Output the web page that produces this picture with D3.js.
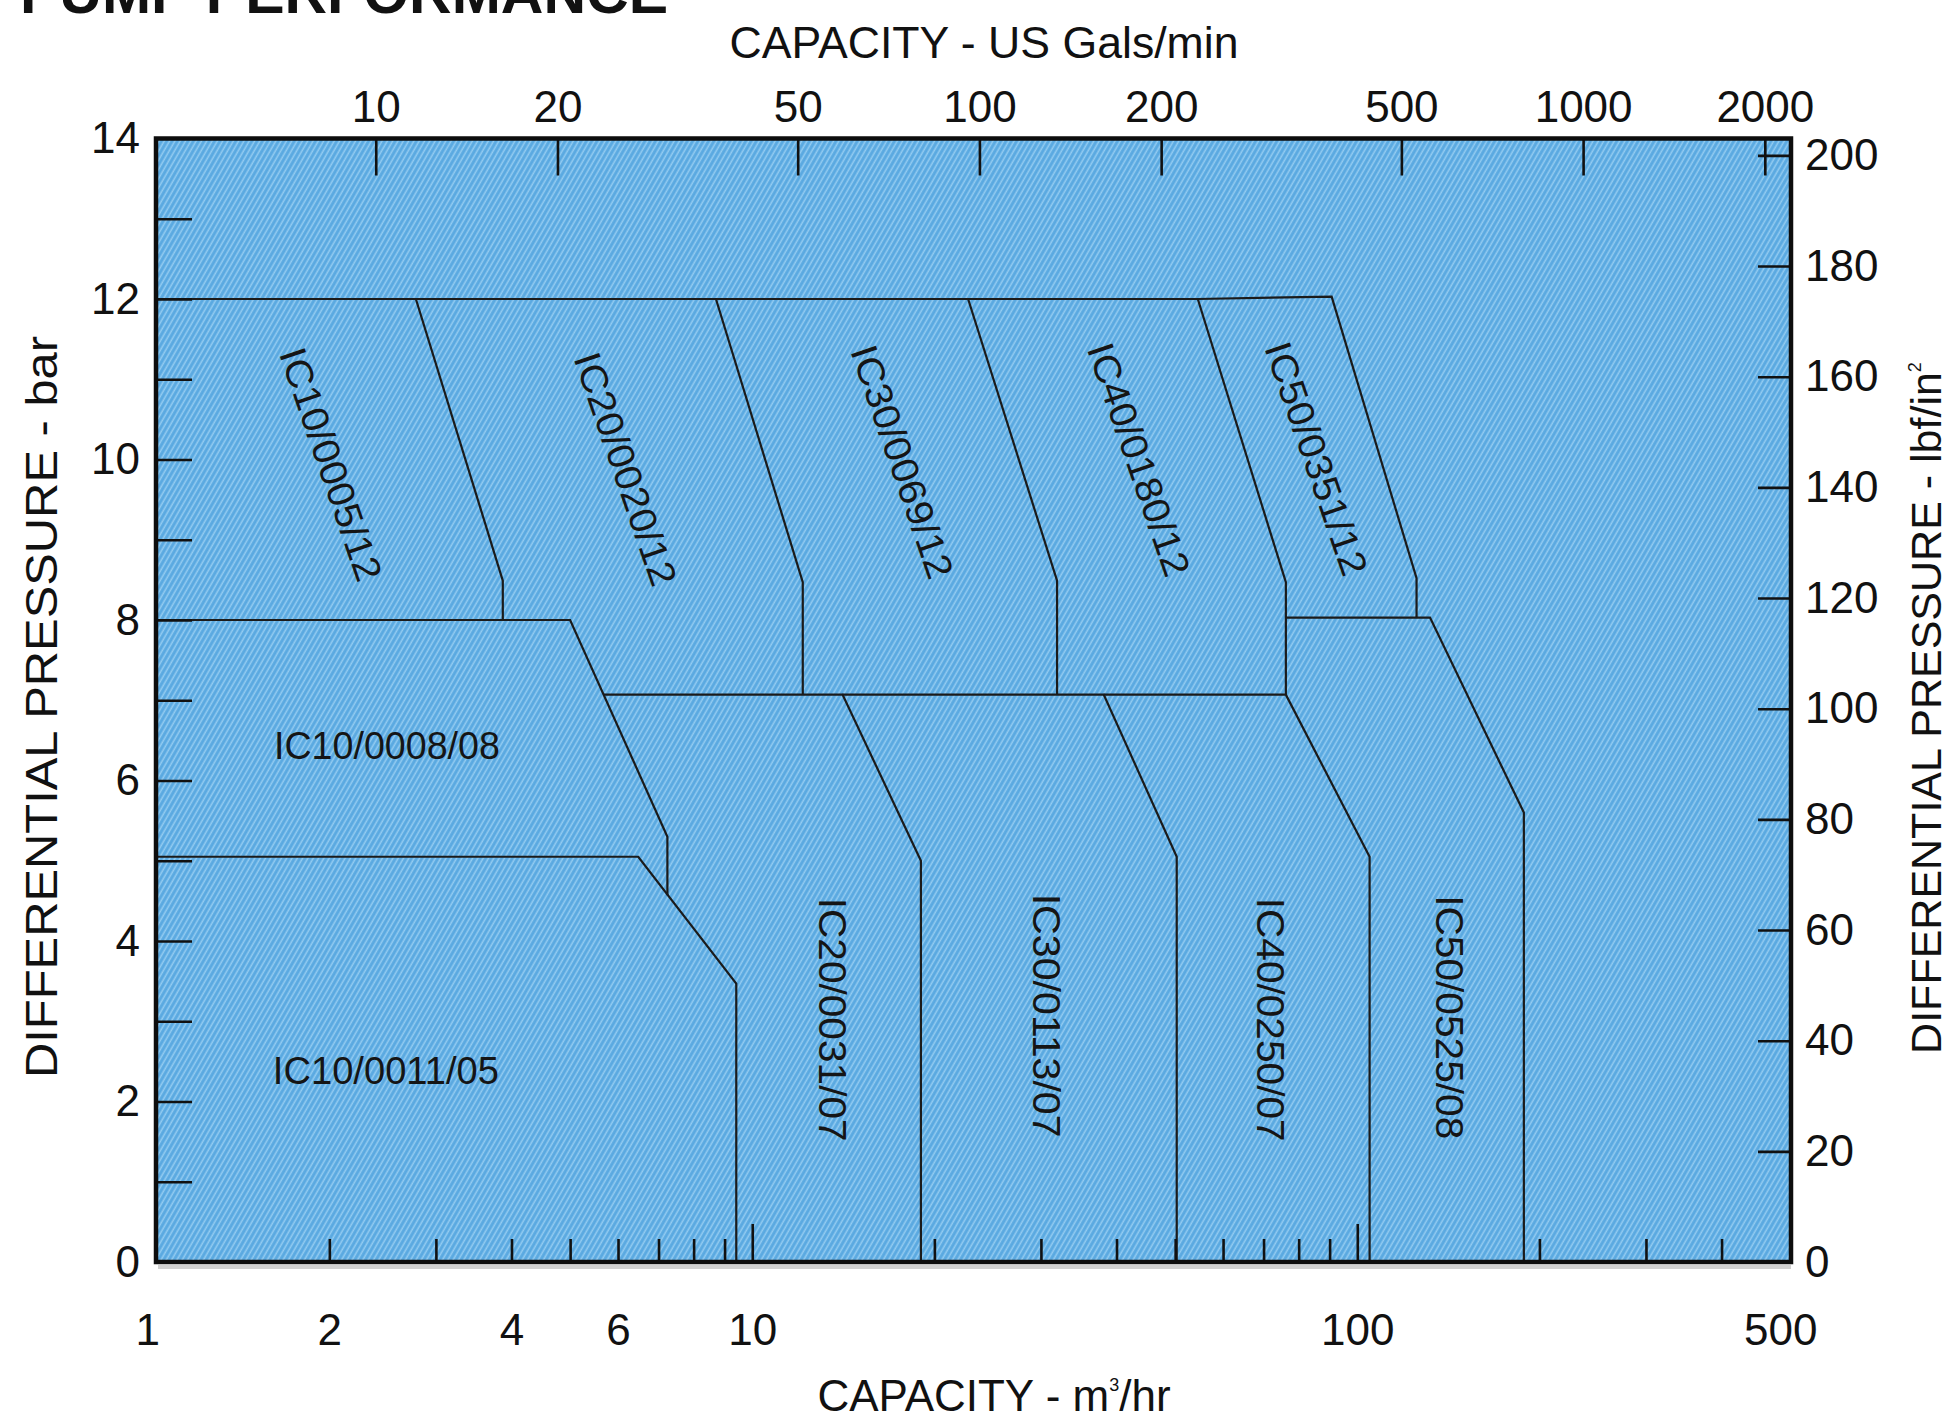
<!DOCTYPE html>
<html>
<head>
<meta charset="utf-8">
<script src="https://cdn.jsdelivr.net/npm/d3@7"></script>
<style>
    html, body { margin: 0; padding: 0; background: #fff; }
    svg { display: block; }
</style>
</head>
<body>
<svg id="chart"></svg>
<script>
(function () {
    'use strict';

    // axis ranges
    const flowDomain = [1.034, 521];     // m3/hr, bottom axis (log)
    const gpmDomain = [4.325, 2210];     // US gal/min, top axis (log)
    const barDomain = [0, 14];
    const PSI_PER_BAR = 14.5038;

    const barLabels = d3.range(0, 15, 2);
    const barMinor = d3.range(1, 14);
    const psiTicks = d3.range(20, 201, 20);
    const psiLabels = d3.range(0, 201, 20);
    const flowLabels = [1, 2, 4, 6, 10, 100, 500];
    const flowMinor = [2, 3, 4, 5, 6, 7, 8, 9, 20, 30, 40, 50, 60, 70, 80, 90, 200, 300, 400];
    const flowMajor = [10, 100];
    const gpmTicks = [10, 20, 50, 100, 200, 500, 1000, 2000];

    // pump models and the upper / right edge of each one's range, [m3/hr, bar]
    const pumpNames = [
        "IC10/0011/05", "IC10/0008/08", "IC10/0005/12", "IC20/0020/12",
        "IC20/0031/07", "IC30/0069/12", "IC30/0113/07", "IC40/0180/12",
        "IC40/0250/07", "IC50/0351/12", "IC50/0525/08"
    ];
    const pumpEdges = [
        [[flowDomain[0], 5.05], [6.48, 5.05], [9.41, 3.47], [9.41, 0]],
        [[flowDomain[0], 8.0], [5.0, 8.0], [7.24, 5.30], [7.24, 4.57]],
        [[flowDomain[0], 12], [2.78, 12], [3.87, 8.49], [3.87, 8.0]],
        [[2.78, 12], [8.71, 12], [12.12, 8.47], [12.12, 7.07]],
        [[5.68, 7.07], [14.1, 7.07], [19.0, 5.0], [19.0, 0]],
        [[8.71, 12], [22.74, 12], [31.9, 8.49], [31.9, 7.07]],
        [[14.1, 7.07], [38.1, 7.07], [50.3, 5.05], [50.3, 0]],
        [[22.74, 12], [54.5, 12], [76.2, 8.47], [76.2, 7.07]],
        [[38.1, 7.07], [76.2, 7.07], [104.8, 5.05], [104.8, 0]],
        [[54.5, 12], [90.7, 12.03], [125.3, 8.52], [125.3, 8.03]],
        [[76.2, 8.03], [131.9, 8.03], [188.5, 5.6], [188.5, 0]]
    ];

    const width = 1956;
    const height = 1425;
    const plot = {left: 156, right: 1791, top: 138.5, bottom: 1262};
    const font = "'Liberation Sans', Arial, Helvetica, sans-serif";

    // where each model name sits: [m3/hr, bar, rotation]
    const labelSpots = [
        [2.48, 2.38, 0], [2.49, 6.43, 0], [2.01, 9.94, 71], [6.17, 9.88, 71],
        [13.55, 3.02, 90], [17.68, 9.97, 71], [30.6, 3.07, 90], [43.5, 10.0, 71],
        [71.6, 3.02, 90], [85.5, 10.01, 71], [141.8, 3.05, 90]
    ];

    const x = d3.scaleLog().domain(flowDomain).range([plot.left, plot.right]);
    const xTop = d3.scaleLog().domain(gpmDomain).range([plot.left, plot.right]);
    const y = d3.scaleLinear().domain(barDomain).range([plot.bottom, plot.top]);
    const yPsi = d3.scaleLinear().domain([0, barDomain[1] * PSI_PER_BAR]).range([plot.bottom, plot.top]);

    const svg = d3.select('#chart')
        .attr("width", width)
        .attr("height", height)
        .attr("viewBox", `0 0 ${width} ${height}`)
        .style("font-family", font);

    const defs = svg.append("defs");
    const hatch = defs.append("pattern")
        .attr("id", "hatch")
        .attr("patternUnits", "userSpaceOnUse")
        .attr("width", 4.6)
        .attr("height", 20)
        .attr("patternTransform", "rotate(30)");
    hatch.append("rect")
        .attr("width", 4.6)
        .attr("height", 20)
        .attr("fill", "#5aa9e1");
    hatch.append("line")
        .attr("x1", 1.2).attr("x2", 1.2)
        .attr("y1", 0).attr("y2", 20)
        .attr("stroke", "#92cbf1")
        .attr("stroke-width", 1.6);

    // plot background
    svg.append("rect")
        .attr("x", plot.left)
        .attr("y", plot.top)
        .attr("width", plot.right - plot.left)
        .attr("height", plot.bottom - plot.top)
        .attr("fill", "url(#hatch)");

    // faint shadow under the bottom edge
    svg.append("line")
        .attr("x1", plot.left + 2).attr("x2", plot.right)
        .attr("y1", plot.bottom + 5).attr("y2", plot.bottom + 5)
        .attr("stroke", "#9a9a9a")
        .attr("stroke-opacity", 0.45)
        .attr("stroke-width", 4);

    // pump range edges
    const line = d3.line()
        .x(d => x(d[0]))
        .y(d => y(d[1]));

    svg.append("g")
        .attr("fill", "none")
        .attr("stroke", "#1b1b1b")
        .attr("stroke-width", 2.2)
        .attr("stroke-linejoin", "miter")
        .selectAll("path")
        .data(pumpEdges)
        .join("path")
        .attr("d", line);

    // model names
    svg.append("g")
        .attr("font-size", 38)
        .attr("fill", "#151515")
        .attr("text-anchor", "middle")
        .selectAll("text")
        .data(pumpNames)
        .join("text")
        .attr("dominant-baseline", "central")
        .attr("transform", (d, i) => {
            const s = labelSpots[i];
            return `translate(${x(s[0])},${y(s[1])}) rotate(${s[2]})`;
        })
        .attr("textLength", (d, i) => labelSpots[i][2] === 0 ? 226 : 244)
        .attr("lengthAdjust", "spacingAndGlyphs")
        .text(d => d);

    // axes
    const styleAxis = g => {
        g.select(".domain").remove();
        g.attr("font-family", font)
            .attr("font-size", 44)
            .attr("color", "#111");
        g.selectAll(".tick line").attr("stroke-width", 2.6);
        g.selectAll(".tick text").attr("fill", "#111");
    };

    // bottom: m3/hr
    svg.append("g")
        .attr("transform", `translate(0,${plot.bottom})`)
        .call(d3.axisBottom(x).tickValues(flowMinor).tickSize(-23).tickFormat(""))
        .call(styleAxis);
    svg.append("g")
        .attr("transform", `translate(0,${plot.bottom})`)
        .call(d3.axisBottom(x).tickValues(flowMajor).tickSize(-38).tickFormat(""))
        .call(styleAxis);
    svg.append("g")
        .attr("transform", `translate(0,${plot.bottom})`)
        .call(d3.axisBottom(x).tickValues(flowLabels).tickSize(0).tickPadding(52).tickFormat(d3.format("d")))
        .call(styleAxis);

    // top: US gal/min
    svg.append("g")
        .attr("transform", `translate(0,${plot.top})`)
        .call(d3.axisTop(xTop).tickValues(gpmTicks).tickSize(-37).tickPadding(17).tickFormat(d3.format("d")))
        .call(styleAxis);

    // left: bar
    svg.append("g")
        .attr("transform", `translate(${plot.left},0)`)
        .call(d3.axisLeft(y).tickValues(barMinor).tickSize(-36).tickFormat(""))
        .call(styleAxis);
    svg.append("g")
        .attr("transform", `translate(${plot.left},0)`)
        .call(d3.axisLeft(y).tickValues(barLabels).tickSize(0).tickPadding(16))
        .call(styleAxis);

    // right: lbf/in2
    svg.append("g")
        .attr("transform", `translate(${plot.right},0)`)
        .call(d3.axisRight(yPsi).tickValues(psiTicks).tickSize(-33).tickFormat(""))
        .call(styleAxis);
    svg.append("g")
        .attr("transform", `translate(${plot.right},0)`)
        .call(d3.axisRight(yPsi).tickValues(psiLabels).tickSize(0).tickPadding(14))
        .call(styleAxis);

    // frame
    svg.append("rect")
        .attr("x", plot.left)
        .attr("y", plot.top)
        .attr("width", plot.right - plot.left)
        .attr("height", plot.bottom - plot.top)
        .attr("fill", "none")
        .attr("stroke", "#0d0d0d")
        .attr("stroke-width", 4.5);

    // titles
    svg.append("text")
        .attr("x", 20)
        .attr("y", 13)
        .attr("font-size", 58)
        .attr("font-weight", "bold")
        .attr("fill", "#111")
        .attr("textLength", 648)
        .attr("lengthAdjust", "spacingAndGlyphs")
        .text("PUMP PERFORMANCE");

    svg.append("text")
        .attr("x", 984)
        .attr("y", 58)
        .attr("text-anchor", "middle")
        .attr("font-size", 44)
        .attr("fill", "#111")
        .attr("textLength", 509)
        .attr("lengthAdjust", "spacingAndGlyphs")
        .text("CAPACITY - US Gals/min");

    const bottomTitle = svg.append("text")
        .attr("x", 994)
        .attr("y", 1411)
        .attr("text-anchor", "middle")
        .attr("font-size", 44)
        .attr("fill", "#111");
    bottomTitle.append("tspan").text("CAPACITY - m");
    bottomTitle.append("tspan").attr("font-size", 18).attr("dy", -20).text("3");
    bottomTitle.append("tspan").attr("dy", 20).text("/hr");

    svg.append("text")
        .attr("transform", "translate(57,707) rotate(-90)")
        .attr("text-anchor", "middle")
        .attr("font-size", 44)
        .attr("fill", "#111")
        .attr("textLength", 742)
        .attr("lengthAdjust", "spacingAndGlyphs")
        .text("DIFFERENTIAL PRESSURE - bar");

    const rightTitle = svg.append("text")
        .attr("transform", "translate(1941,708) rotate(-90)")
        .attr("text-anchor", "middle")
        .attr("font-size", 43)
        .attr("fill", "#111");
    rightTitle.append("tspan").text("DIFFERENTIAL PRESSURE - lbf/in");
    rightTitle.append("tspan").attr("font-size", 18).attr("dy", -20).text("2");

}());
</script>
</body>
</html>
